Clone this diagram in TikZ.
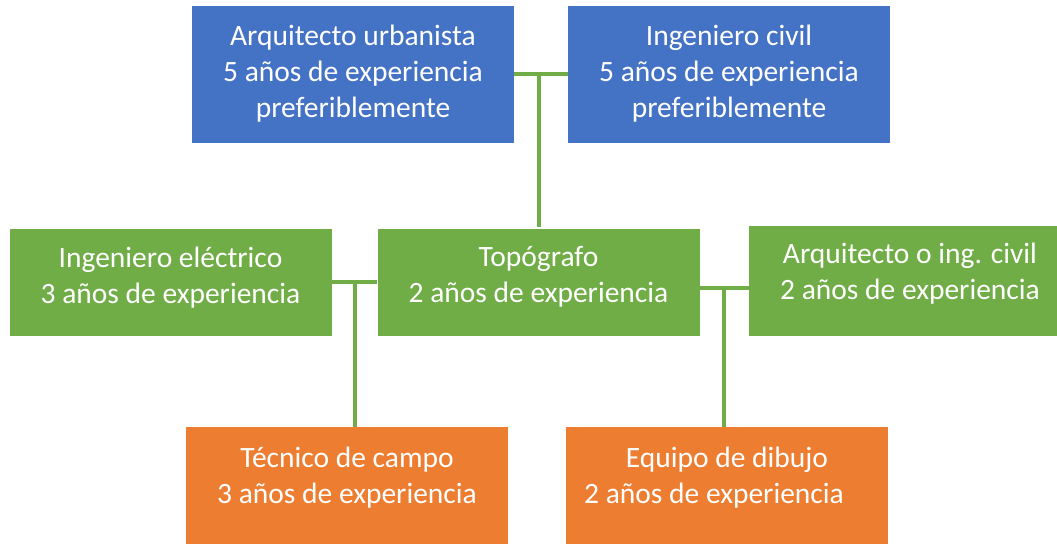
\documentclass[tikz,border=0pt]{standalone}
\usepackage{fontspec}
\setmainfont{Carlito}
\usetikzlibrary{calc}
\definecolor{AzulClr}{rgb}{0.267,0.447,0.769}
\definecolor{VerdeClr}{rgb}{0.439,0.678,0.278}
\definecolor{NaranjaClr}{rgb}{0.929,0.490,0.192}

\begin{document}
\begin{tikzpicture}[x=0.5pt,y=-0.5pt,
  caja/.style={inner sep=0pt,minimum width=161pt},
  texto/.style={text=white,align=center,inner sep=0pt,font=\fontsize{14.75}{18}\selectfont},
  linea/.style={draw=VerdeClr,line width=2pt}]
\useasboundingbox (0,0) rectangle (1057,544);

\node[caja,fill=AzulClr,minimum height=68.5pt] (urb) at (353,74.5) {};
\node[caja,fill=AzulClr,minimum height=68.5pt] (ingc) at (729,74.5) {};
\node[caja,fill=VerdeClr,minimum height=53.5pt] (elec) at (170.5,282.5) {};
\node[caja,fill=VerdeClr,minimum height=53.5pt] (topo) at (538.5,282.5) {};
\node[caja,fill=VerdeClr,minimum height=55pt] (arq) at (910,281) {};
\node[caja,fill=NaranjaClr,minimum height=58.5pt] (tec) at (347,485.5) {};
\node[caja,fill=NaranjaClr,minimum height=58.5pt] (dib) at (727,486) {};

\node[texto] (urbT) at (353,73.5) {Arquitecto urbanista\\5 años de experiencia\\preferiblemente};
\node[texto] (ingcT) at (729,73.5) {Ingeniero civil\\5 años de experiencia\\preferiblemente};
\node[texto] (elecT) at (170.5,277.5) {Ingeniero eléctrico\\3 años de experiencia};
\node[texto] (topoT) at (538.5,276.5) {Topógrafo\\2 años de experiencia};
\node[texto] (arqT) at (910,273.5) {Arquitecto o ing. civil\\2 años de experiencia};
\node[texto] (tecT) at (347,477.5) {Técnico de campo\\3 años de experiencia};
\node[texto] (dibT) at (727,477.5) {Equipo de dibujo\\2 años de experiencia\hspace*{13pt}};

\draw[linea] (urb.east) -- (ingc.west);
\draw[linea] (topo.north |- urb.east) -- ([yshift=1pt]topo.north);
\coordinate (m1) at ($(elec.east)!.5!(topo.west)$);
\draw[linea] (elec.east) -- (topo.west);
\draw[linea] (m1) -- (m1 |- tec.north);
\coordinate (m2) at ($([yshift=-3pt]topo.east)!.5!([yshift=-3pt]topo.east -| arq.west)$);
\draw[linea] ([yshift=-3pt]topo.east) -- ([yshift=-3pt]topo.east -| arq.west);
\draw[linea] (m2) -- (m2 |- dib.north);
\end{tikzpicture}
\end{document}
